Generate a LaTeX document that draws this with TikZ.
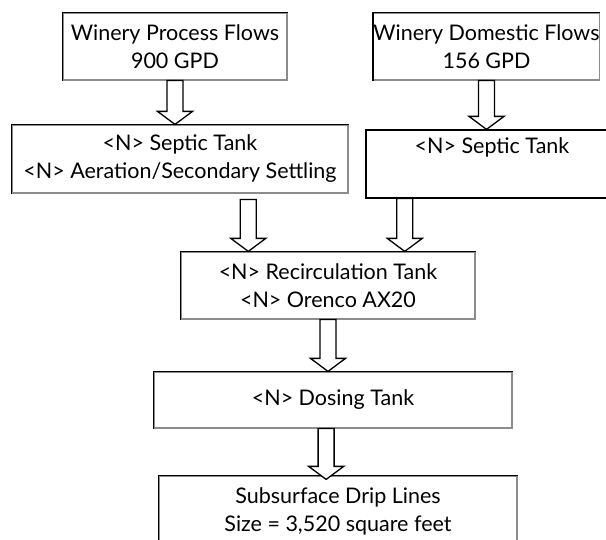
\documentclass[tikz,border=0pt]{standalone}
\usepackage{fontspec}
\setmainfont{Lato}
\usetikzlibrary{calc}
\definecolor{shade}{HTML}{8C8C8C}

% hollow block arrow: shaft starts at the height of #1, tip at #2
\newcommand{\flowarrow}[2]{%
  \draw[fatarrow] let \p1=(#1), \p2=(#2) in
    (\x2-8pt,\y1) -- (\x2-8pt,\y2+13pt) -- (\x2-17.5pt,\y2+13pt) -- (\x2,\y2)
    -- (\x2+17.5pt,\y2+13pt) -- (\x2+8pt,\y2+13pt) -- (\x2+8pt,\y1) -- cycle;}

\begin{document}
\begin{tikzpicture}[x=1pt, y=-1pt,
    font=\fontsize{21.5}{28}\selectfont,
    stage/.style={draw=shade, line width=1.2pt, align=center, inner sep=0pt},
    topedge/.style={black, line width=1.6pt},
    fatarrow/.style={draw=black, fill=white, line width=1.3pt, line join=miter}]
  \useasboundingbox (0,0) rectangle (606,540);
  \clip (0,0) rectangle (606,540);

  \node[stage, minimum width=224, minimum height=67] (proc) at (175,46.5) {Winery Process Flows\\900 GPD};
  \node[stage, minimum width=225, minimum height=67] (dom) at (486.5,46.5) {Winery Domestic Flows\\156 GPD};
  \node[stage, minimum width=336, minimum height=68] (sep1) at (180,159) {<N> Septic Tank\\<N> Aeration/Secondary Settling};
  \node[stage, draw=black, minimum width=252, minimum height=68] (sep2) at (492,164) {<N> Septic Tank\\\strut};
  \node[stage, minimum width=294, minimum height=67] (rec) at (328,285.5) {<N> Recirculation Tank\\<N> Orenco AX20};
  \node[stage, minimum width=358, minimum height=56] (dose) at (333,400) {<N> Dosing Tank};
  \node[stage, minimum width=358, minimum height=70] (drip) at (338,511) {Subsurface Drip Lines\\Size = 3,520 square feet};

  \foreach \b in {proc,dom,sep1,sep2,rec,dose,drip}
    \draw[topedge] (\b.south west) |- (\b.north east);

  \coordinate (in1) at ($(rec.north west)!0.23!(rec.north east)$);
  \coordinate (in2) at ($(rec.north west)!0.76!(rec.north east)$);
  \coordinate (out1) at ($(drip.north west)!0.467!(drip.north east)+(0,4)$);

  \flowarrow{proc.south}{sep1.north -| proc.south}
  \flowarrow{dom.south}{sep2.north -| dom.south}
  \flowarrow{$(sep1.south)+(0,6)$}{in1}
  \flowarrow{sep2.south}{in2}
  \flowarrow{rec.south}{dose.north -| rec.south}
  \flowarrow{dose.south}{out1}
\end{tikzpicture}
\end{document}
